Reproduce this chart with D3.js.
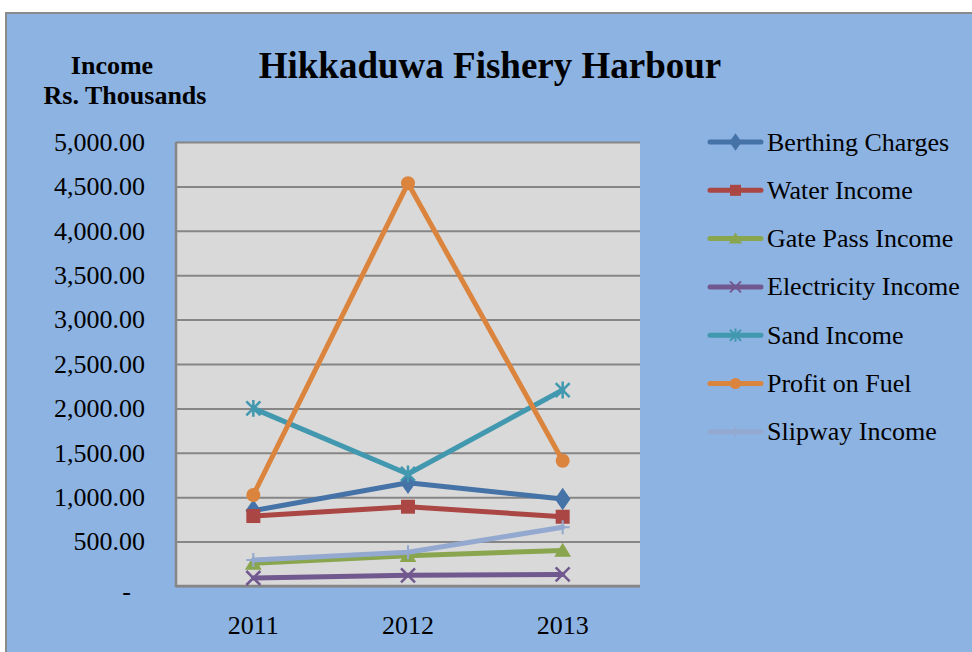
<!DOCTYPE html>
<html>
<head>
<meta charset="utf-8">
<script src="https://cdn.jsdelivr.net/npm/d3@7"></script>
<style>
  html, body { margin: 0; padding: 0; background: #ffffff; }
  svg { display: block; }
  text { font-family: "Liberation Serif", "Times New Roman", serif; fill: #000; }
</style>
</head>
<body>
<svg id="chart" width="972" height="652"></svg>
<script>
// Annual income at Hikkaduwa Fishery Harbour, Rs. thousands
const years = ["2011", "2012", "2013"];
const berthingCharges   = [848, 1163, 980];
const waterIncome       = [788, 893, 780];
const gatePassIncome    = [255, 340, 400];
const electricityIncome = [90, 120, 130];
const sandIncome        = [2000, 1262, 2207];
const profitOnFuel      = [1025, 4535, 1411];
const slipwayIncome     = [292, 380, 661];
const yTicks = [0, 500, 1000, 1500, 2000, 2500, 3000, 3500, 4000, 4500, 5000];

const series = [
  { name: "Berthing Charges",   values: berthingCharges,   color: "#4572A7", marker: "diamond" },
  { name: "Water Income",       values: waterIncome,       color: "#AA4643", marker: "square" },
  { name: "Gate Pass Income",   values: gatePassIncome,    color: "#89A54E", marker: "triangle" },
  { name: "Electricity Income", values: electricityIncome, color: "#71588F", marker: "x" },
  { name: "Sand Income",        values: sandIncome,        color: "#4198AF", marker: "star" },
  { name: "Profit on Fuel",     values: profitOnFuel,      color: "#DB843D", marker: "circle" },
  { name: "Slipway Income",     values: slipwayIncome,     color: "#93A9CF", marker: "plus" }
];

const svg = d3.select("#chart");

// chart background panel
svg.append("rect")
  .attr("x", 6).attr("y", 13).attr("width", 980).attr("height", 660)
  .attr("fill", "#8DB3E2").attr("stroke", "#8a8a8a").attr("stroke-width", 2);

const plot = { left: 176, top: 142, right: 640, bottom: 586 };
const pw = plot.right - plot.left, ph = plot.bottom - plot.top;

const x = d3.scaleBand().domain(years).range([plot.left, plot.right]);
const y = d3.scaleLinear().domain([0, 5000]).range([plot.bottom, plot.top]);
const cx = d => x(d) + x.bandwidth() / 2;

// plot area
svg.append("rect")
  .attr("x", plot.left).attr("y", plot.top).attr("width", pw).attr("height", ph)
  .attr("fill", "#D9D9D9");

// horizontal gridlines
svg.append("g")
  .attr("transform", `translate(${plot.left},0)`)
  .call(d3.axisLeft(y).tickValues(yTicks).tickSize(-pw).tickFormat(""))
  .call(g => g.select(".domain").remove())
  .call(g => g.selectAll("line").attr("stroke", "#868686").attr("stroke-width", 2));

// plot frame on left and bottom
svg.append("path")
  .attr("d", `M${plot.left},${plot.top}V${plot.bottom}H${plot.right}`)
  .attr("fill", "none").attr("stroke", "#868686").attr("stroke-width", 2.5);

// y axis labels
const fmt = d3.format(",.2f");
svg.append("g")
  .attr("transform", `translate(${plot.left},0)`)
  .call(d3.axisLeft(y).tickValues(yTicks).tickSize(0).tickPadding(31)
    .tickFormat(d => d === 0 ? "-" : fmt(d)))
  .call(g => g.select(".domain").remove())
  .call(g => g.selectAll("text")
    .style("font-family", '"Liberation Serif", "Times New Roman", serif')
    .style("font-size", "26px").attr("fill", "#000"))
  .call(g => g.selectAll(".tick").filter(d => d === 0).select("text")
    .attr("dx", -14).attr("dy", "0.5em"));

// x axis labels
svg.append("g")
  .attr("transform", `translate(0,${plot.bottom})`)
  .call(d3.axisBottom(x).tickSize(0).tickPadding(30))
  .call(g => g.select(".domain").remove())
  .call(g => g.selectAll("text")
    .style("font-family", '"Liberation Serif", "Times New Roman", serif')
    .style("font-size", "26px").attr("fill", "#000"));

// marker shapes
function drawMarker(g, type, color, s) {
  const sw = Math.max(1.5, s * 0.18);
  switch (type) {
    case "diamond":
      g.append("path").attr("d", d3.symbol(d3.symbolDiamond, s * s * 0.75)())
        .attr("transform", "scale(1.2,1)").attr("fill", color); break;
    case "square":
      g.append("rect").attr("x", -s / 2).attr("y", -s / 2).attr("width", s).attr("height", s)
        .attr("fill", color); break;
    case "triangle":
      g.append("path").attr("d", `M0,${-s * 0.55}L${s * 0.6},${s * 0.45}L${-s * 0.6},${s * 0.45}Z`)
        .attr("fill", color); break;
    case "circle":
      g.append("circle").attr("r", s / 2).attr("fill", color); break;
    case "x":
      g.append("path").attr("d", `M${-s / 2},${-s / 2}L${s / 2},${s / 2}M${-s / 2},${s / 2}L${s / 2},${-s / 2}`)
        .attr("stroke", color).attr("stroke-width", sw); break;
    case "star":
      g.append("path").attr("d", `M${-s / 2},${-s / 2}L${s / 2},${s / 2}M${-s / 2},${s / 2}L${s / 2},${-s / 2}M0,${-s * 0.6}V${s * 0.6}`)
        .attr("stroke", color).attr("stroke-width", sw); break;
    case "plus":
      g.append("path").attr("d", `M${-s / 2},0H${s / 2}M0,${-s / 2}V${s / 2}`)
        .attr("stroke", color).attr("stroke-width", sw * 0.8); break;
  }
}

const line = d3.line().x((d, i) => cx(years[i])).y(d => y(d));

series.forEach(s => {
  const g = svg.append("g");
  g.append("path")
    .attr("d", line(s.values))
    .attr("fill", "none").attr("stroke", s.color)
    .attr("stroke-width", 5).attr("stroke-linejoin", "round").attr("stroke-linecap", "round");
  s.values.forEach((v, i) => {
    const m = g.append("g").attr("transform", `translate(${cx(years[i])},${y(v)})`);
    drawMarker(m, s.marker, s.color, 14);
  });
});

// legend
const legend = svg.append("g");
series.forEach((s, i) => {
  const ly = 142 + i * 48.3;
  const row = legend.append("g").attr("transform", `translate(0,${ly})`);
  row.append("line").attr("x1", 710).attr("x2", 761).attr("y1", 0).attr("y2", 0)
    .attr("stroke", s.color).attr("stroke-width", 5).attr("stroke-linecap", "round");
  const m = row.append("g").attr("transform", "translate(735.5,0)");
  drawMarker(m, s.marker, s.color, 11);
  row.append("text").attr("x", 767).attr("y", 0).attr("dy", "0.33em")
    .style("font-size", "26px").text(s.name);
});

// titles
svg.append("text").attr("x", 490).attr("y", 78).attr("text-anchor", "middle")
  .style("font-size", "37px").style("font-weight", "bold").text("Hikkaduwa Fishery Harbour");
svg.append("text").attr("x", 112).attr("y", 74).attr("text-anchor", "middle")
  .style("font-size", "26px").style("font-weight", "bold").text("Income");
svg.append("text").attr("x", 125).attr("y", 104).attr("text-anchor", "middle")
  .style("font-size", "26px").style("font-weight", "bold").text("Rs. Thousands");
</script>
</body>
</html>
